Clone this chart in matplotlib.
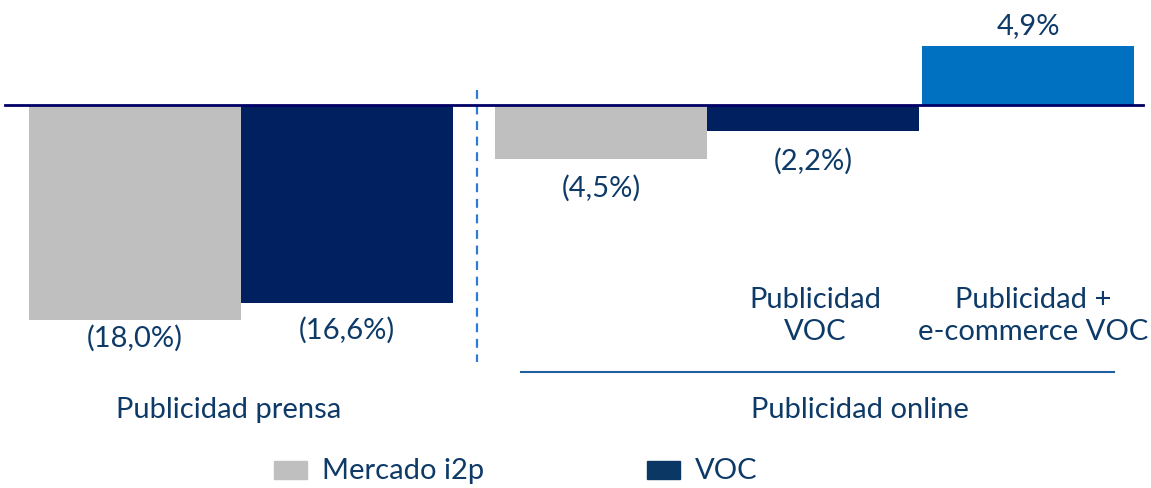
import matplotlib.pyplot as plt
from matplotlib.patches import Rectangle

# DATA
values = [-18.0, -16.6, -4.5, -2.2, 4.9]
labels = ["(18,0%)", "(16,6%)", "(4,5%)", "(2,2%)", "4,9%"]
colors = ["#BFBFBF", "#002060", "#BFBFBF", "#002060", "#0070C0"]
sub_cats = ["Publicidad\nVOC", "Publicidad +\ne-commerce VOC"]
groups = ["Publicidad prensa", "Publicidad online"]
legend_names = ["Mercado i2p", "VOC"]
legend_colors = ["#BFBFBF", "#0B3764"]

TXT = "#0E3A68"
FONT = "Lato"
FS = 21
PX = 11.94  # pixels per percentage point
ZERO = 105

fig = plt.figure(figsize=(11.51, 4.88), dpi=100)
ax = fig.add_axes([0, 0, 1, 1])
ax.set_xlim(0, 1151)
ax.set_ylim(-(488 - ZERO) / PX, ZERO / PX)
ax.axis("off")

# bar centres (pixels) and width
xs = [135, 347, 601.5, 813, 1028]
ax.bar(xs, values, width=212, color=colors, zorder=2)

# label distance from bar end, pixels
offs = [18, 27, 30, 30, 20]
for x, v, lab, o in zip(xs, values, labels, offs):
    off = -o if v < 0 else o
    ax.annotate(lab, (x, v), xytext=(0, off * 0.72), textcoords="offset points",
                ha="center", va="center", fontsize=FS, color=TXT, family=FONT)

ax.axhline(0, xmin=5 / 1151, xmax=1143 / 1151, color="#000066", lw=2, zorder=3)

def py(p):
    return (ZERO - p) / PX

ax.plot([477, 477], [py(90), py(362)], color="#2E7BD6", lw=1.6, ls=(0, (4, 3)))
ax.plot([521, 1114], [py(372), py(372)], color="#1F5FA0", lw=1.5)

ax.text(815, py(316), sub_cats[0], ha="center", va="center", fontsize=FS,
        color=TXT, family=FONT, linespacing=1.32)
ax.text(1033, py(316), sub_cats[1], ha="center", va="center", fontsize=FS,
        color=TXT, family=FONT, linespacing=1.32)
ax.text(229, py(410), groups[0], ha="center", va="center", fontsize=FS, color=TXT, family=FONT)
ax.text(860, py(410), groups[1], ha="center", va="center", fontsize=FS, color=TXT, family=FONT)

# legend
for lx, name, c in zip([274, 647], legend_names, legend_colors):
    ax.add_patch(Rectangle((lx, py(479)), 33, 18 / PX, color=c))
    ax.text(lx + 48, py(471), name, ha="left", va="center", fontsize=FS, color=TXT, family=FONT)

fig.savefig("out.png", dpi=100)
